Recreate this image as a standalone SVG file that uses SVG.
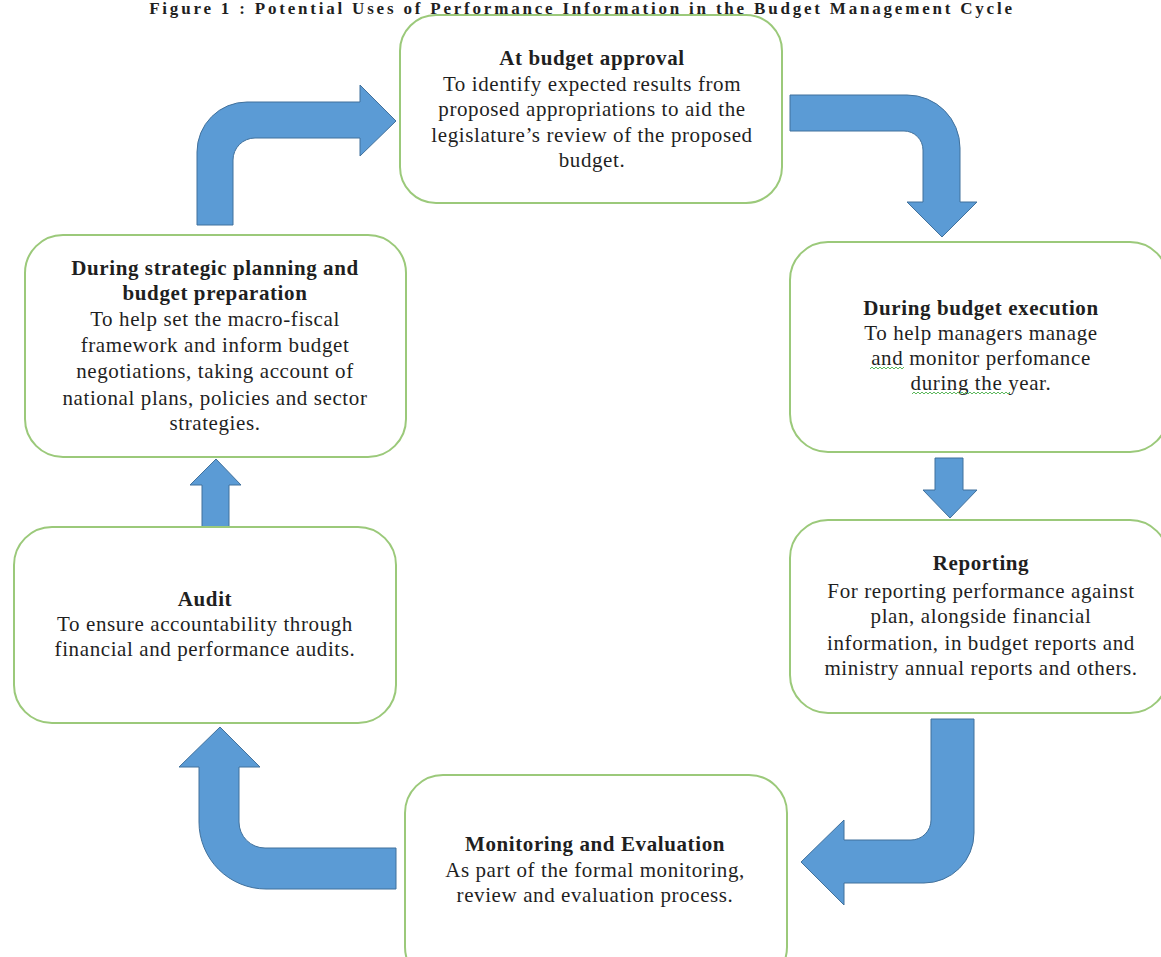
<svg xmlns="http://www.w3.org/2000/svg" width="1161" height="957" viewBox="0 0 1161 957">
<style>
.box{fill:#fff;stroke:#9bc97a;stroke-width:2}
.arr{fill:#5b9bd5;stroke:#41719c;stroke-width:1}
text{font-family:"Liberation Serif","Times New Roman",serif;font-size:21px;fill:#1f1f1f;letter-spacing:0.6px;text-anchor:middle}
.h{font-weight:bold}
.sq{fill:none;stroke:#5cb85c;stroke-width:1}
</style>
<rect width="1161" height="957" fill="#fff"/>
<text id="title" x="582" y="14" class="h" style="font-size:17px;letter-spacing:2.8px">Figure 1 : Potential Uses of Performance Information in the Budget Management Cycle</text>

<g id="connectors">
<path class="arr" d="M197,225 L197,152 A50,50 0 0 1 247,102 L360,102 L360,85 L396,121 L360,156 L360,138 L255,138 A22,22 0 0 0 233,160 L233,225 Z"/>
<path class="arr" d="M790,95 L907,95 A53,53 0 0 1 960,148 L960,202 L977,202 L942,237 L907,202 L923,202 L923,150 A19,19 0 0 0 904,131 L790,131 Z"/>
<path class="arr" d="M935,458 L963,458 L963,490 L977,490 L950,518 L923,490 L935,490 Z"/>
<path class="arr" d="M931,719 L974,719 L974,833 A50,50 0 0 1 924,883 L844,883 L844,905 L801,862 L844,820 L844,840 L911,840 A20,20 0 0 0 931,820 Z"/>
<path class="arr" d="M396,848 L265,848 A26,26 0 0 1 239,822 L239,767 L260,767 L220,727 L179,767 L199,767 L199,822 A67,67 0 0 0 266,889 L396,889 Z"/>
<path class="arr" d="M202,527 L202,485 L190,485 L216,459 L241,485 L229,485 L229,527 Z"/>
</g>

<g id="approval">
<rect class="box" x="400" y="15" width="382" height="188" rx="36"/>
<text x="592" y="65" class="h">At budget approval</text>
<text x="592" y="91">To identify expected results from</text>
<text x="592" y="116">proposed appropriations to aid the</text>
<text x="592" y="142">legislature’s review of the proposed</text>
<text x="592" y="167">budget.</text>
</g>

<g id="execution">
<rect class="box" x="790" y="242" width="378" height="210" rx="38"/>
<text x="981" y="315" class="h">During budget execution</text>
<text x="981" y="340">To help managers manage</text>
<text x="981" y="365">and monitor perfomance</text>
<text x="981" y="390">during the year.</text>
<path class="sq" d="M870,369 l2,-2 l2,2 l2,-2 l2,2 l2,-2 l2,2 l2,-2 l2,2 l2,-2 l2,2 l2,-2 l2,2 l2,-2 l2,2 l2,-2 l2,2 l2,-2"/>
<path class="sq" d="M912,394 l2,-2 l2,2 l2,-2 l2,2 l2,-2 l2,2 l2,-2 l2,2 l2,-2 l2,2 l2,-2 l2,2 l2,-2 l2,2 l2,-2 l2,2 l2,-2 l2,2 l2,-2 l2,2 l2,-2 l2,2 l2,-2 l2,2 l2,-2 l2,2 l2,-2 l2,2 l2,-2 l2,2 l2,-2 l2,2 l2,-2 l2,2 l2,-2 l2,2 l2,-2 l2,2 l2,-2 l2,2 l2,-2 l2,2 l2,-2 l2,2 l2,-2 l2,2 l2,-2 l2,2 l2,-2"/>
</g>

<g id="reporting">
<rect class="box" x="790" y="520" width="378" height="193" rx="38"/>
<text x="981" y="570" class="h">Reporting</text>
<text x="981" y="598">For reporting performance against</text>
<text x="981" y="623">plan, alongside financial</text>
<text x="981" y="650">information, in budget reports and</text>
<text x="981" y="675">ministry annual reports and others.</text>
</g>

<g id="monitoring">
<rect class="box" x="405" y="775" width="382" height="210" rx="38"/>
<text x="595" y="851" class="h">Monitoring and Evaluation</text>
<text x="595" y="877">As part of the formal monitoring,</text>
<text x="595" y="902">review and evaluation process.</text>
</g>

<g id="audit">
<rect class="box" x="14" y="527" width="382" height="196" rx="38"/>
<text x="205" y="606" class="h">Audit</text>
<text x="205" y="631">To ensure accountability through</text>
<text x="205" y="656">financial and performance audits.</text>
</g>

<g id="planning">
<rect class="box" x="25" y="235" width="381" height="222" rx="38"/>
<text x="215" y="275" class="h">During strategic planning and</text>
<text x="215" y="300" class="h">budget preparation</text>
<text x="215" y="326">To help set the macro-fiscal</text>
<text x="215" y="352">framework and inform budget</text>
<text x="215" y="378">negotiations, taking account of</text>
<text x="215" y="405">national plans, policies and sector</text>
<text x="215" y="430">strategies.</text>
</g>
</svg>
